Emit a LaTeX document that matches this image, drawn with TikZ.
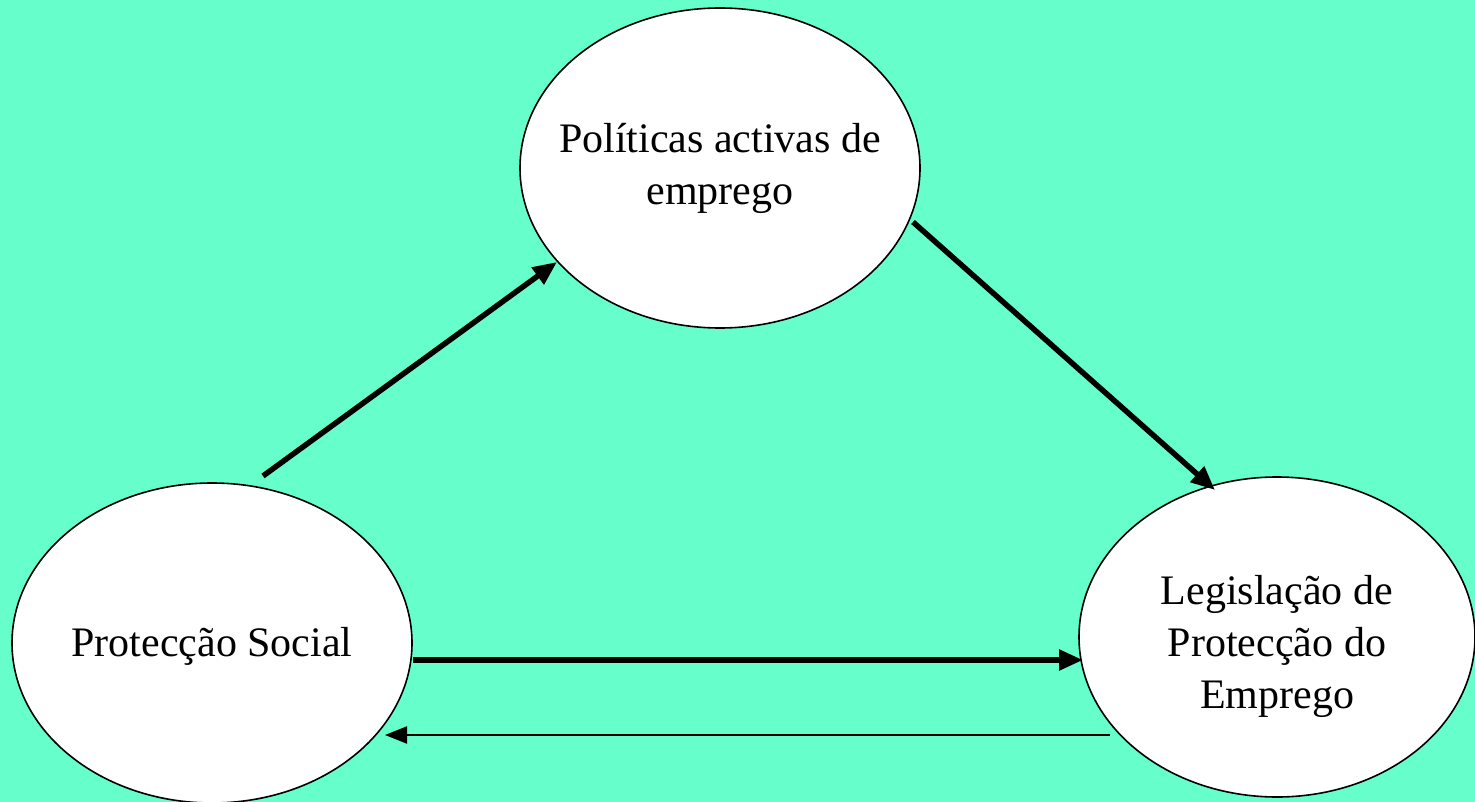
\documentclass[tikz,border=0pt]{standalone}
\usepackage{fontspec}
\setmainfont{Liberation Serif}
\usetikzlibrary{arrows.meta,shapes.geometric}
\definecolor{bg}{HTML}{66FFCC}
\tikzset{
  oval/.style={draw=black,line width=1.6pt,fill=white,ellipse,minimum width=400pt,minimum height=320pt,inner sep=0pt},
  label text/.style={align=center,inner sep=0pt,font=\fontsize{42}{52}\selectfont},
  thickarrow/.style={line width=5.5pt,-{Triangle[length=24pt,width=20pt]}},
  thinarrow/.style={line width=2pt,-{Triangle[length=22pt,width=17pt]}}
}
\begin{document}
\begin{tikzpicture}[x=1pt,y=-1pt]
\fill[bg] (0,0) rectangle (1475,802);
\useasboundingbox (0,0) rectangle (1475,802);
\node[oval] (pol) at (720,168) {};
\node[oval] (ps) at (212,643) {};
\node[oval,minimum width=396pt] (leg) at (1277,637) {};
\node[label text] (polt) at (720,168) {Políticas activas de\\emprego};
\node[label text] (pst) at (212,646) {Protecção Social};
\node[label text] (legt) at (1277,646) {Legislação de\\Protecção do\\Emprego};
\coordinate (a1) at (263,476);
\coordinate (a2) at (557,262);
\coordinate (b1) at (913,222);
\coordinate (b2) at (1215,490);
\coordinate (c1) at (413,660);
\coordinate (c2) at (1083,660);
\coordinate (d1) at (1110,735);
\coordinate (d2) at (385,735);
\draw[thickarrow] (a1) -- (a2);
\draw[thickarrow] (b1) -- (b2);
\draw[thickarrow] (c1) -- (c2);
\draw[thinarrow] (d1) -- (d2);
\end{tikzpicture}
\end{document}
